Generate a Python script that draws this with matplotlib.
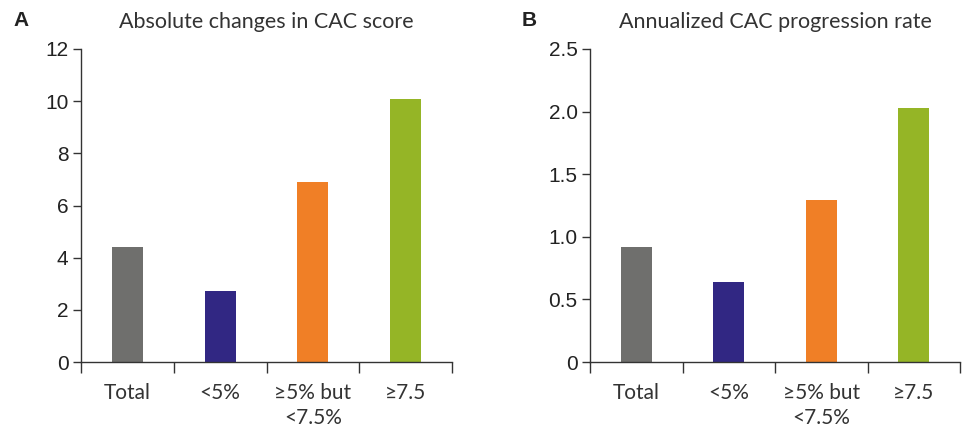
import numpy as np
import matplotlib
matplotlib.use("Agg")
import matplotlib.pyplot as plt
from matplotlib.ticker import FixedLocator, FuncFormatter

categories = ["Total", "<5%", "≥5% but\n<7.5%", "≥7.5"]
colors = ["#6f6f6d", "#312783", "#f07f26", "#95b526"]

abs_change = [4.42, 2.72, 6.92, 10.1]
annual_rate = [0.92, 0.64, 1.29, 2.03]

abs_ticks = [0, 2, 4, 6, 8, 10, 12]
rate_ticks = [0, 0.5, 1.0, 1.5, 2.0, 2.5]

label_font = ["Lato", "DejaVu Sans"]
num_font = "Liberation Sans"
axis_col = "#333333"

fig = plt.figure(figsize=(9.65, 4.29), dpi=100)
ax_a = fig.add_axes([81 / 965, 67 / 429, 371 / 965, 313 / 429])
ax_b = fig.add_axes([590 / 965, 67 / 429, 370 / 965, 313 / 429])


def draw_panel(ax, vals, yticks, title, fmt):
    x = np.arange(len(vals)) + 0.5
    ax.bar(x, vals, width=1 / 3, color=colors, zorder=2)
    ax.set_xlim(0, len(vals))
    ax.set_ylim(yticks[0], yticks[-1])

    for side in ["top", "right"]:
        ax.spines[side].set_visible(False)
    for side in ["left", "bottom"]:
        ax.spines[side].set_color(axis_col)
        ax.spines[side].set_linewidth(1.0)

    ax.set_yticks(yticks)
    ax.yaxis.set_major_formatter(FuncFormatter(fmt))
    ax.tick_params(axis="y", length=6, width=1.0, color=axis_col, pad=3,
                   labelsize=15, labelcolor="#222222")
    for t in ax.get_yticklabels():
        t.set_family(num_font)

    ax.set_xticks(x)
    ax.set_xticklabels(categories, family=label_font, fontsize=15,
                       color="#333333", linespacing=1.3, va="top")
    ax.tick_params(axis="x", which="major", length=0, pad=15)
    ax.xaxis.set_minor_locator(FixedLocator(np.arange(len(vals) + 1)))
    ax.tick_params(axis="x", which="minor", length=8, width=1.0, color=axis_col)

    ax.set_title(title, family=label_font, fontsize=15.5, color="#333333", pad=15)


draw_panel(ax_a, abs_change, abs_ticks, "Absolute changes in CAC score",
           lambda v, p: "%d" % v)
draw_panel(ax_b, annual_rate, rate_ticks, "Annualized CAC progression rate",
           lambda v, p: "0" if v == 0 else "%.1f" % v)

fig.text(13 / 965, 1 - 11 / 429, "A", family=num_font, fontweight="bold",
         fontsize=15, va="top", ha="left", color="#222222")
fig.text(522 / 965, 1 - 11 / 429, "B", family=num_font, fontweight="bold",
         fontsize=15, va="top", ha="left", color="#222222")

fig.savefig("out.png", dpi=100, facecolor="white")
